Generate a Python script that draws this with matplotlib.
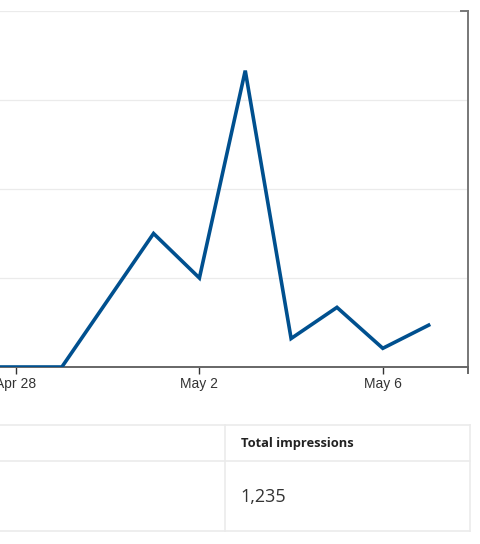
import datetime as dt
import matplotlib
matplotlib.use('Agg')
import matplotlib.pyplot as plt
import matplotlib.dates as mdates
from matplotlib.lines import Line2D

# daily impressions
days = [dt.date(2024, 4, 26) + dt.timedelta(days=i) for i in range(12)]
impressions = [0, 0, 0, 0, 75, 150, 100, 333, 32, 67, 21, 47]
tick_days = [dt.date(2024, 4, 28), dt.date(2024, 5, 2), dt.date(2024, 5, 6)]
tick_labels = ['Apr 28', 'May 2', 'May 6']
grid_vals = [100, 200, 300, 400]
header = 'Total impressions'
total = '1,235'

W, H = 480, 544
fig = plt.figure(figsize=(W / 100, H / 100), dpi=100)
fig.patch.set_facecolor('white')

# plot area: top at y=11, bottom at y=367, right at x=468
ax = fig.add_axes([0, (H - 367) / H, 468 / W, 356 / H])
day_px = 45.85
x0 = mdates.date2num(dt.date(2024, 4, 28))
ax.set_xlim(x0 - 16 / day_px, x0 + (468 - 16) / day_px)
ax.set_ylim(0, 400)

for g in grid_vals:
    ax.axhline(g, color='#ebebeb', lw=0.9, zorder=0, xmax=(461) / 468 if g == 400 else 1)

ax.plot(days, impressions, color='#00508f', lw=2.6, solid_joinstyle='miter', zorder=3)

ax.set_xticks([mdates.date2num(d) for d in tick_days])
ax.set_xticklabels(tick_labels, fontsize=10, color='#333333', family='Liberation Sans')
ax.tick_params(axis='x', length=5, width=1, color='#333333', pad=2.5)
ax.set_yticks([])

for s in ['top', 'left']:
    ax.spines[s].set_visible(False)
ax.spines['bottom'].set_color('#666666')
ax.spines['bottom'].set_linewidth(1.4)
ax.spines['right'].set_color('#777777')
ax.spines['right'].set_linewidth(1.4)

# outer ticks of the axes
ax.plot([1, 1], [0, -6 / 356], color='#666666', lw=1.4, transform=ax.transAxes, clip_on=False)
ax.plot([1 - 7 / 468, 1], [1, 1], color='#777777', lw=1.4, transform=ax.transAxes, clip_on=False)

# summary table below the chart
tc = '#ebebeb'


def hline(y, x1, x2):
    fig.add_artist(Line2D([x1 / W, x2 / W], [1 - y / H, 1 - y / H], color=tc, lw=1.2))


def vline(x, y1, y2):
    fig.add_artist(Line2D([x / W, x / W], [1 - y1 / H, 1 - y2 / H], color=tc, lw=1.2))


hline(424.5, 0, 470)
hline(460.5, 0, 470)
hline(530.5, 0, 470)
vline(224.5, 424.5, 530.5)
vline(469.5, 424.5, 530.5)

fig.text(241 / W, 1 - 443 / H, header, fontsize=9.3, fontweight='bold', color='#222222',
         family='Open Sans', va='center', ha='left')
fig.text(240 / W, 1 - 497 / H, total, fontsize=13, color='#333333',
         family='Open Sans', va='center', ha='left')

fig.savefig('out.png', dpi=100, facecolor='white')
